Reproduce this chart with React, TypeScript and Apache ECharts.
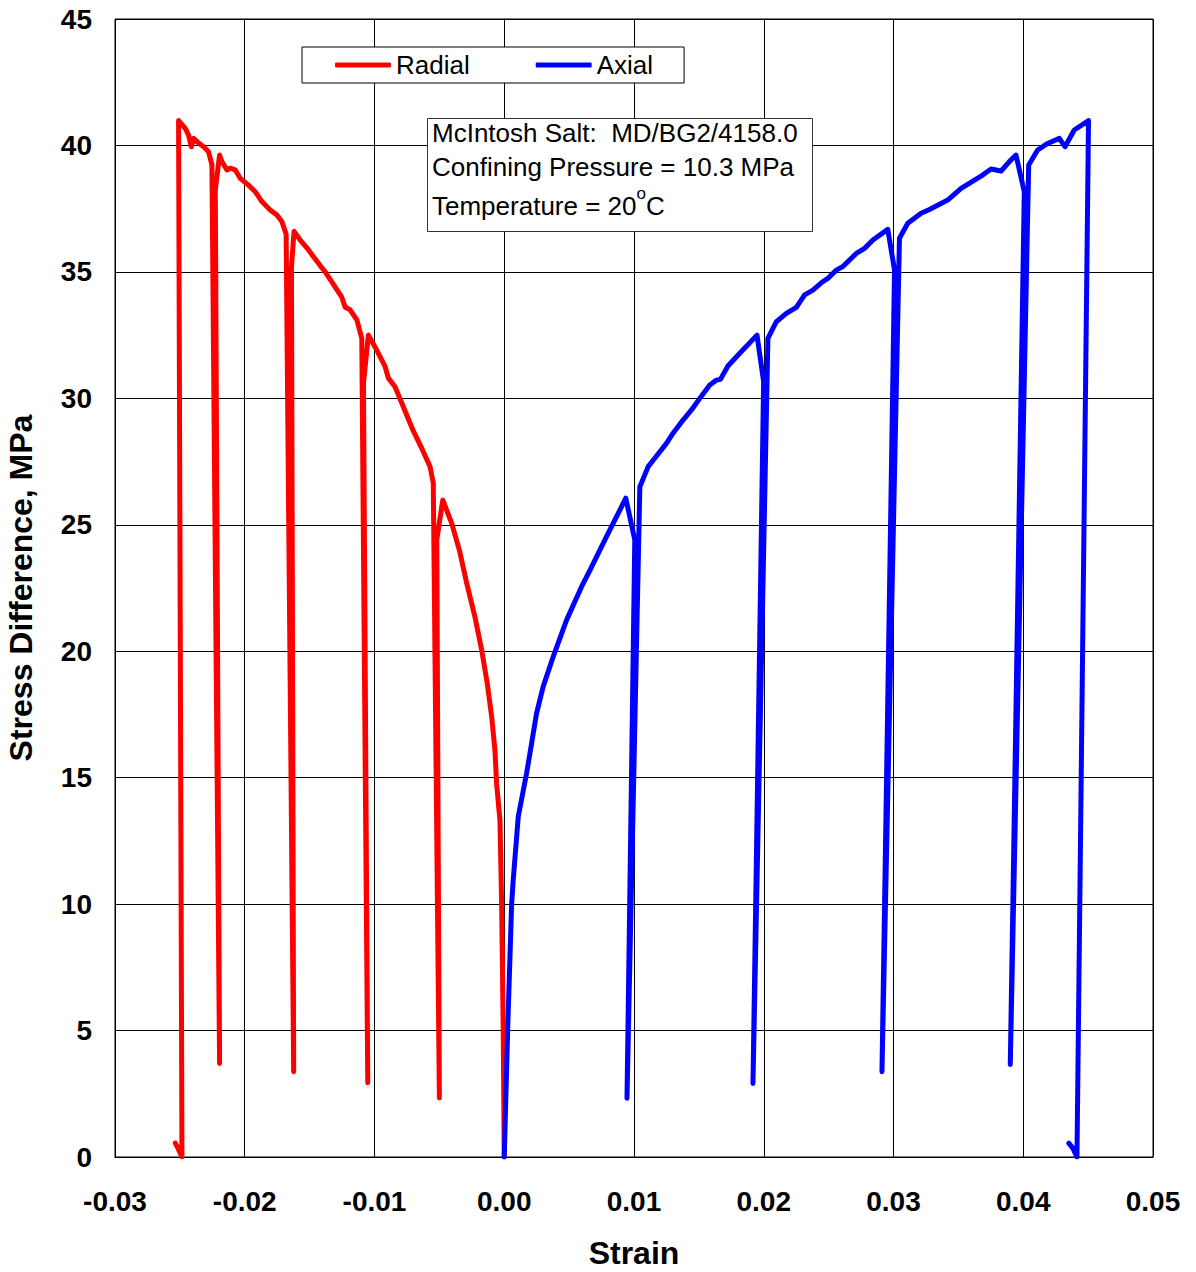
import React, { useEffect, useRef } from "react";
import * as echarts from "echarts";

const FONT = "'Liberation Sans', Arial, sans-serif";

const xTicks = { min: -0.03, max: 0.05, step: 0.01 };
const yTicks = { min: 0, max: 45, step: 5 };

const radialStrain = [
  0, -0.00008, -0.0002, -0.00033, -0.00059, -0.00072, -0.00097, -0.00131, -0.00174, -0.00226,
  -0.00289, -0.00346, -0.00405, -0.00474, -0.0052, -0.005, -0.00547, -0.00572, -0.0063, -0.007,
  -0.00778, -0.00842, -0.00893, -0.00918, -0.00982, -0.01047, -0.01085, -0.01052, -0.01098, -0.01136,
  -0.01188, -0.01226, -0.01252, -0.0129, -0.01342, -0.0138, -0.01419, -0.0147, -0.01521, -0.01573,
  -0.0162, -0.0164, -0.01623, -0.01681, -0.01714, -0.01752, -0.01804, -0.01868, -0.01919, -0.01971,
  -0.02035, -0.02073, -0.02113, -0.02137, -0.02176, -0.02194, -0.02227, -0.02194, -0.02253, -0.02279,
  -0.02317, -0.02368, -0.02394, -0.02412, -0.02433, -0.02458, -0.0251, -0.02484, -0.02515, -0.02535,
];
const radialStress = [
  0, 5, 10, 13.3, 14.78, 16.09, 17.41, 18.73, 20.05, 21.36,
  22.68, 24.0, 25.06, 25.98, 24.4, 2.33, 26.65, 27.3, 27.96, 28.7,
  29.67, 30.46, 30.8, 31.25, 31.9, 32.5, 30.6, 2.94, 32.37, 33.1,
  33.5, 33.6, 34.0, 34.3, 34.7, 35.0, 35.25, 35.6, 35.95, 36.26,
  36.6, 35.2, 3.37, 36.5, 36.99, 37.25, 37.45, 37.78, 38.17, 38.43,
  38.7, 39.03, 39.1, 39.03, 39.36, 39.62, 38.24, 3.7, 39.23, 39.75,
  39.95, 40.15, 40.28, 39.95, 40.41, 40.67, 40.98, 0, 0.35, 0.55,
];

const axialStrain = [
  0, 0.00026, 0.00057, 0.00069, 0.00108, 0.00172, 0.00198, 0.00249, 0.003, 0.00377,
  0.0048, 0.00596, 0.0066, 0.00788, 0.00937, 0.01006, 0.00946, 0.01045, 0.01109, 0.0116,
  0.0125, 0.01301, 0.01378, 0.01443, 0.01507, 0.01584, 0.01635, 0.01666, 0.01724, 0.01815,
  0.01948, 0.01999, 0.01917, 0.02032, 0.02097, 0.02174, 0.02251, 0.02315, 0.02379, 0.02443,
  0.02494, 0.02559, 0.0261, 0.02713, 0.02777, 0.02841, 0.02956, 0.03008, 0.02911, 0.03046,
  0.0311, 0.03213, 0.03277, 0.03418, 0.03521, 0.03687, 0.03752, 0.03829, 0.03893, 0.03944,
  0.04008, 0.039, 0.04042, 0.04111, 0.04188, 0.04278, 0.04322, 0.04393, 0.04503, 0.04414,
  0.04382, 0.04351,
];
const axialStress = [
  0, 5, 10, 10.95, 13.46, 15.17, 15.96, 17.54, 18.6, 19.78,
  21.23, 22.55, 23.2, 24.53, 26.05, 24.4, 2.32, 26.5, 27.3, 27.63,
  28.22, 28.62, 29.14, 29.54, 30.0, 30.53, 30.72, 30.75, 31.28, 31.78,
  32.5, 30.66, 2.91, 32.37, 33.03, 33.36, 33.6, 34.09, 34.28, 34.57,
  34.74, 35.07, 35.21, 35.73, 35.93, 36.26, 36.68, 35.07, 3.37, 36.33,
  36.92, 37.32, 37.47, 37.84, 38.3, 38.83, 39.07, 38.99, 39.36, 39.62,
  38.17, 3.66, 39.23, 39.82, 40.08, 40.28, 39.95, 40.61, 40.98, 0,
  0.35, 0.55,
];

const seriesNames = ["Radial", "Axial"];
const seriesColors = ["#FF0000", "#0000FF"];
const infoLines = ["McIntosh Salt:  MD/BG2/4158.0", "Confining Pressure = 10.3 MPa"];

export default function App() {
  const ref = useRef<HTMLDivElement>(null);
  useEffect(() => {
    if (!ref.current) return;
    const chart = echarts.init(ref.current, null, { renderer: "svg" });
    const zip = (xs: number[], ys: number[]) => xs.map((x, i) => [x, ys[i]]);
    const textFont = `26px ${FONT}`;
    chart.setOption({
      animation: false,
      backgroundColor: "#fff",
      grid: {
        left: 115,
        right: 43,
        top: 19,
        bottom: 115,
        containLabel: false,
        outerBoundsMode: "none",
        show: true,
        borderColor: "#000",
        borderWidth: 1,
      },
      xAxis: {
        type: "value",
        min: xTicks.min,
        max: xTicks.max,
        interval: xTicks.step,
        name: "Strain",
        nameLocation: "middle",
        nameGap: 80,
        nameTextStyle: { fontFamily: FONT, fontWeight: "bold", fontSize: 32, color: "#000" },
        axisLine: { lineStyle: { color: "#000", width: 1 } },
        axisTick: { show: false },
        axisLabel: {
          fontFamily: FONT,
          fontWeight: "bold",
          fontSize: 28,
          color: "#000",
          margin: 30,
          formatter: (v: number) => v.toFixed(2),
        },
        splitLine: { show: true, lineStyle: { color: "#000", width: 1 } },
      },
      yAxis: {
        type: "value",
        min: yTicks.min,
        max: yTicks.max,
        interval: yTicks.step,
        name: "Stress Difference, MPa",
        nameLocation: "middle",
        nameGap: 78,
        nameTextStyle: { fontFamily: FONT, fontWeight: "bold", fontSize: 32, color: "#000" },
        axisLine: { lineStyle: { color: "#000", width: 1 } },
        axisTick: { show: false },
        axisLabel: { fontFamily: FONT, fontWeight: "bold", fontSize: 28, color: "#000", margin: 23 },
        splitLine: { show: true, lineStyle: { color: "#000", width: 1 } },
      },
      legend: {
        data: seriesNames.map((n) => ({ name: n, icon: "roundRect" })),
        left: 302,
        top: 47,
        orient: "horizontal",
        backgroundColor: "#fff",
        borderColor: "#000",
        borderWidth: 1,
        padding: [5, 31, 5, 33],
        itemGap: 66,
        itemWidth: 56,
        itemHeight: 5,
        textStyle: { fontFamily: FONT, fontSize: 26, color: "#000" },
      },
      series: [
        {
          name: seriesNames[0],
          type: "line",
          data: zip(radialStrain, radialStress),
          showSymbol: false,
          symbol: "none",
          lineStyle: { color: seriesColors[0], width: 5, cap: "round", join: "round" },
          itemStyle: { color: seriesColors[0] },
          z: 3,
        },
        {
          name: seriesNames[1],
          type: "line",
          data: zip(axialStrain, axialStress),
          showSymbol: false,
          symbol: "none",
          lineStyle: { color: seriesColors[1], width: 5, cap: "round", join: "round" },
          itemStyle: { color: seriesColors[1] },
          z: 4,
        },
      ],
      graphic: [
        {
          type: "rect",
          z: 100,
          shape: { x: 427.5, y: 118.5, width: 385, height: 113 },
          style: { fill: "#fff", stroke: "#333", lineWidth: 1 },
        },
        {
          type: "text",
          z: 101,
          x: 432,
          y: 133,
          style: { text: infoLines[0], font: textFont, fill: "#000", verticalAlign: "middle" },
        },
        {
          type: "text",
          z: 101,
          x: 432,
          y: 167,
          style: { text: infoLines[1], font: textFont, fill: "#000", verticalAlign: "middle" },
        },
        {
          type: "text",
          z: 101,
          x: 432,
          y: 202,
          style: {
            text: "{a|Temperature = 20}{s|o}{a|C}",
            verticalAlign: "middle",
            rich: {
              a: { fontFamily: FONT, fontSize: 26, color: "#000", lineHeight: 34, verticalAlign: "bottom" },
              s: { fontFamily: FONT, fontSize: 17, color: "#000", lineHeight: 34, verticalAlign: "top" },
            },
          },
        },
      ],
    });
    return () => chart.dispose();
  }, []);
  return <div ref={ref} style={{ position: "fixed", left: 0, top: 0, width: 1196, height: 1272 }} />;
}
